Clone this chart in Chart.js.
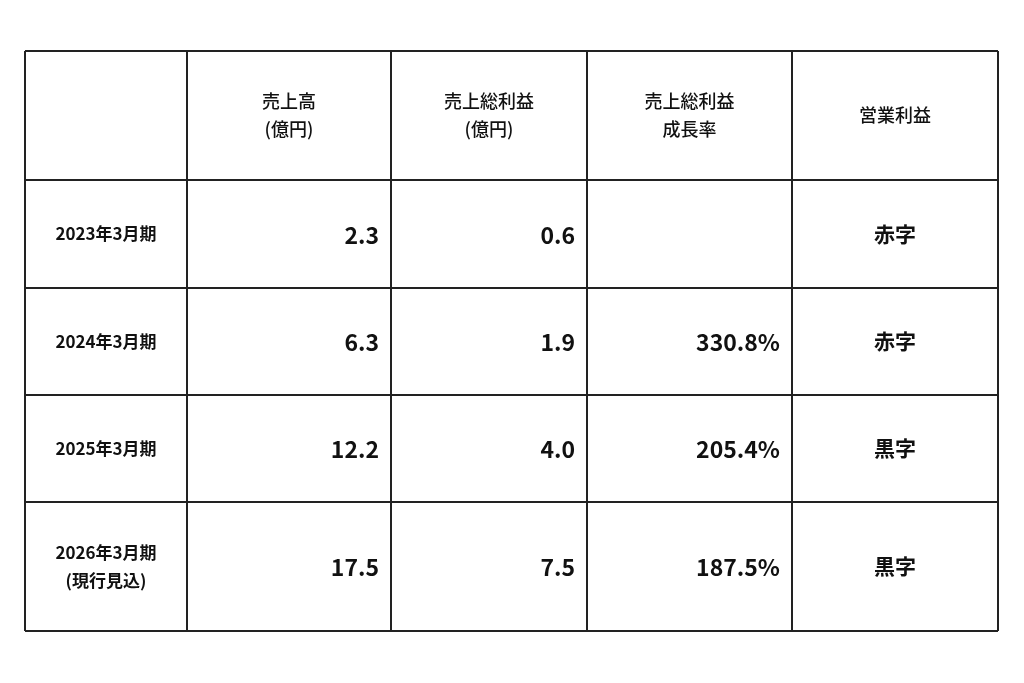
<!DOCTYPE html>
<html>
<head>
<meta charset="utf-8">
<script src="https://cdn.jsdelivr.net/npm/chart.js@4"></script>
<style>
  html, body { margin: 0; padding: 0; background: #fff; }
  #wrap { width: 1024px; height: 683px; }
</style>
</head>
<body>
<div id="wrap"><canvas id="tbl"></canvas></div>
<script>
// table contents
const headers = [['', ''], ['売上高', '(億円)'], ['売上総利益', '(億円)'], ['売上総利益', '成長率'], ['営業利益', '']];
const periods = [['2023年3月期'], ['2024年3月期'], ['2025年3月期'], ['2026年3月期', '(現行見込)']];
const sales = ['2.3', '6.3', '12.2', '17.5'];
const grossProfit = ['0.6', '1.9', '4.0', '7.5'];
const growth = ['', '330.8%', '205.4%', '187.5%'];
const opProfit = ['赤字', '赤字', '黒字', '黒字'];

// layout (scale units)
const colEdges = [0, 162, 366, 562, 767, 973];
const rowEdges = [0, 129, 237, 344, 451, 580];
const FONT = '"Noto Sans CJK JP", "Noto Sans", sans-serif';

const tablePlugin = {
    id: 'tablePlugin',
    afterDraw(chart) {
        const ctx = chart.ctx;
        const xs = chart.scales.x, ys = chart.scales.y;
        const X = v => xs.getPixelForValue(v);
        const Y = v => ys.getPixelForValue(v);
        ctx.save();
        ctx.strokeStyle = '#222';
        ctx.lineWidth = 2;
        colEdges.forEach(c => { ctx.beginPath(); ctx.moveTo(X(c), Y(0)); ctx.lineTo(X(c), Y(580)); ctx.stroke(); });
        rowEdges.forEach(r => { ctx.beginPath(); ctx.moveTo(X(0), Y(r)); ctx.lineTo(X(973), Y(r)); ctx.stroke(); });
        ctx.fillStyle = '#111';
        ctx.textBaseline = 'middle';

        function lines(texts, cx, cy, font, align, lh) {
            const t = texts.filter(s => s !== '');
            ctx.font = font;
            ctx.textAlign = align;
            const start = cy - (t.length - 1) * lh / 2;
            t.forEach((s, i) => ctx.fillText(s, cx, start + i * lh));
        }
        // header
        headers.forEach((h, i) => {
            const cx = (X(colEdges[i]) + X(colEdges[i + 1])) / 2;
            const cy = (Y(rowEdges[0]) + Y(rowEdges[1])) / 2;
            lines(h, cx, cy, '500 18px ' + FONT, 'center', 28);
        });
        const cols = [sales, grossProfit, growth];
        periods.forEach((p, r) => {
            const cy = (Y(rowEdges[r + 1]) + Y(rowEdges[r + 2])) / 2;
            lines(p, (X(colEdges[0]) + X(colEdges[1])) / 2, cy, 'bold 17px ' + FONT, 'center', 28);
            cols.forEach((arr, c) => {
                lines([arr[r]], X(colEdges[c + 2]) - 12, cy + 1, '600 23px ' + FONT, 'right', 28);
            });
            lines([opProfit[r]], (X(colEdges[4]) + X(colEdges[5])) / 2, cy, 'bold 21px ' + FONT, 'center', 28);
        });
        ctx.restore();
    }
};

new Chart(document.getElementById('tbl'), {
    type: 'scatter',
    data: { datasets: [{ data: [] }] },
    options: {
        responsive: true,
        maintainAspectRatio: false,
        animation: false,
        layout: { padding: { left: 25, right: 26, top: 51, bottom: 52 } },
        scales: {
            x: { type: 'linear', min: 0, max: 973, display: false },
            y: { type: 'linear', min: 0, max: 580, reverse: true, display: false },
        },
        plugins: { legend: { display: false }, tooltip: { enabled: false } },
    },
    plugins: [tablePlugin],
});
</script>
</body>
</html>
